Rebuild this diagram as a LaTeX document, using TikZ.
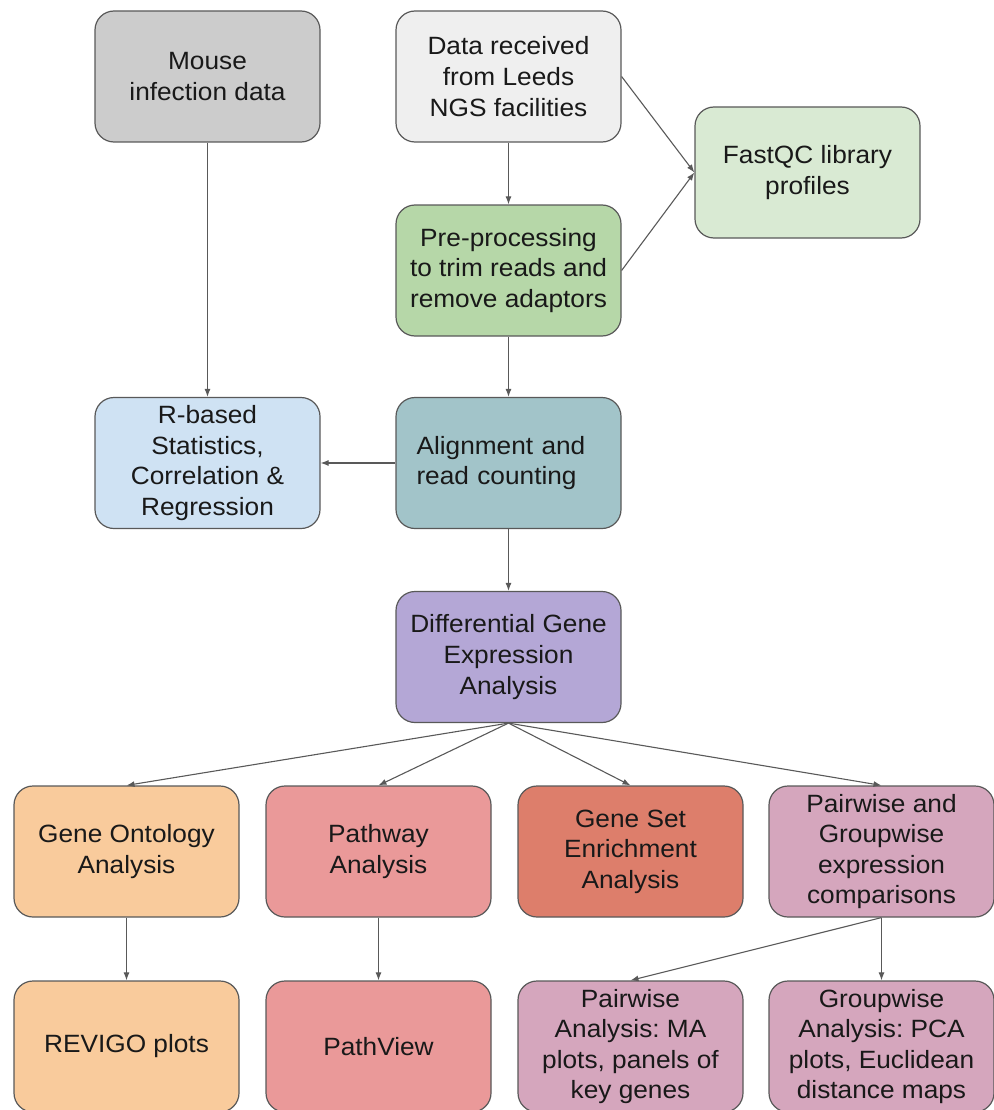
\documentclass[tikz,border=0pt]{standalone}
\usepackage{fontspec}
\setmainfont{Liberation Sans}[FakeStretch=1.05]
\usetikzlibrary{arrows.meta}
\frenchspacing
\definecolor{edge}{HTML}{595959}
\definecolor{grayA}{HTML}{CCCCCC}
\definecolor{grayB}{HTML}{EFEFEF}
\definecolor{greenA}{HTML}{D9EAD3}
\definecolor{greenB}{HTML}{B6D7A8}
\definecolor{blueA}{HTML}{CFE2F3}
\definecolor{cyanA}{HTML}{A2C4C9}
\definecolor{purpleA}{HTML}{B4A7D6}
\definecolor{orangeA}{HTML}{F9CB9C}
\definecolor{redA}{HTML}{EA9999}
\definecolor{berryA}{HTML}{DD7E6B}
\definecolor{magentaA}{HTML}{D5A6BD}
\begin{document}
\begin{tikzpicture}[x=1pt,y=-1pt,
  stage/.style={draw=edge, line width=1.2pt, rounded corners=19pt,
    minimum width=225pt, minimum height=131pt, inner sep=0pt,
    align=center, text=black!90,
    font=\fontsize{25}{30.6}\selectfont},
  flow/.style={draw=edge, line width=1.1pt,
    -{Latex[length=8pt,width=6pt]}}]
\useasboundingbox (0,0) rectangle (993,1110);

% upper part: data sources and preprocessing
\node[stage, fill=grayA]  (mouse) at (207.5,76.5) {Mouse\\infection data};
\node[stage, fill=grayB]  (recv)  at (508.5,76.5) {Data received\\from Leeds\\NGS facilities};
\node[stage, fill=greenA] (fastqc) at (807.5,172.5) {FastQC library\\profiles};
\node[stage, fill=greenB] (pre)   at (508.5,270.5) {Pre-processing\\to trim reads and\\remove adaptors};
\node[stage, fill=blueA]  (rstat) at (207.5,463) {R-based\\Statistics,\\Correlation \&\\Regression};
\node[stage, fill=cyanA, align=left, text width=184pt] (align) at (508.5,463) {Alignment and\\read counting};
\node[stage, fill=purpleA] (dge)  at (508.5,657) {Differential Gene\\Expression\\Analysis};

% downstream analyses
\node[stage, fill=orangeA]  (go)   at (126.5,851.5) {Gene Ontology\\Analysis};
\node[stage, fill=redA]     (path) at (378.5,851.5) {Pathway\\Analysis};
\node[stage, fill=berryA]   (gsea) at (630.5,851.5) {Gene Set\\Enrichment\\Analysis};
\node[stage, fill=magentaA] (comp) at (881.5,851.5) {Pairwise and\\Groupwise\\expression\\comparisons};

% plots
\node[stage, fill=orangeA]  (revigo) at (126.5,1046.5) {REVIGO plots};
\node[stage, fill=redA]     (pview)  at (378.5,1046.5) {PathView};
\node[stage, fill=magentaA] (pairw)  at (630.5,1046.5) {Pairwise\\Analysis: MA\\plots, panels of\\key genes};
\node[stage, fill=magentaA] (groupw) at (881.5,1046.5) {Groupwise\\Analysis: PCA\\plots, Euclidean\\distance maps};

% connectors
\draw[flow] (mouse.south) -- (rstat.north);
\draw[flow] (recv.south) -- (pre.north);
\draw[flow] (recv.east) -- (fastqc.west);
\draw[flow] (pre.east) -- (fastqc.west);
\draw[flow] (pre.south) -- (align.north);
\draw[flow] (align.west) -- (rstat.east);
\draw[flow] (align.south) -- (dge.north);
\draw[flow] (dge.south) -- (go.north);
\draw[flow] (dge.south) -- (path.north);
\draw[flow] (dge.south) -- (gsea.north);
\draw[flow] (dge.south) -- (comp.north);
\draw[flow] (go.south) -- (revigo.north);
\draw[flow] (path.south) -- (pview.north);
\draw[flow] (comp.south) -- (pairw.north);
\draw[flow] (comp.south) -- (groupw.north);
\end{tikzpicture}
\end{document}
